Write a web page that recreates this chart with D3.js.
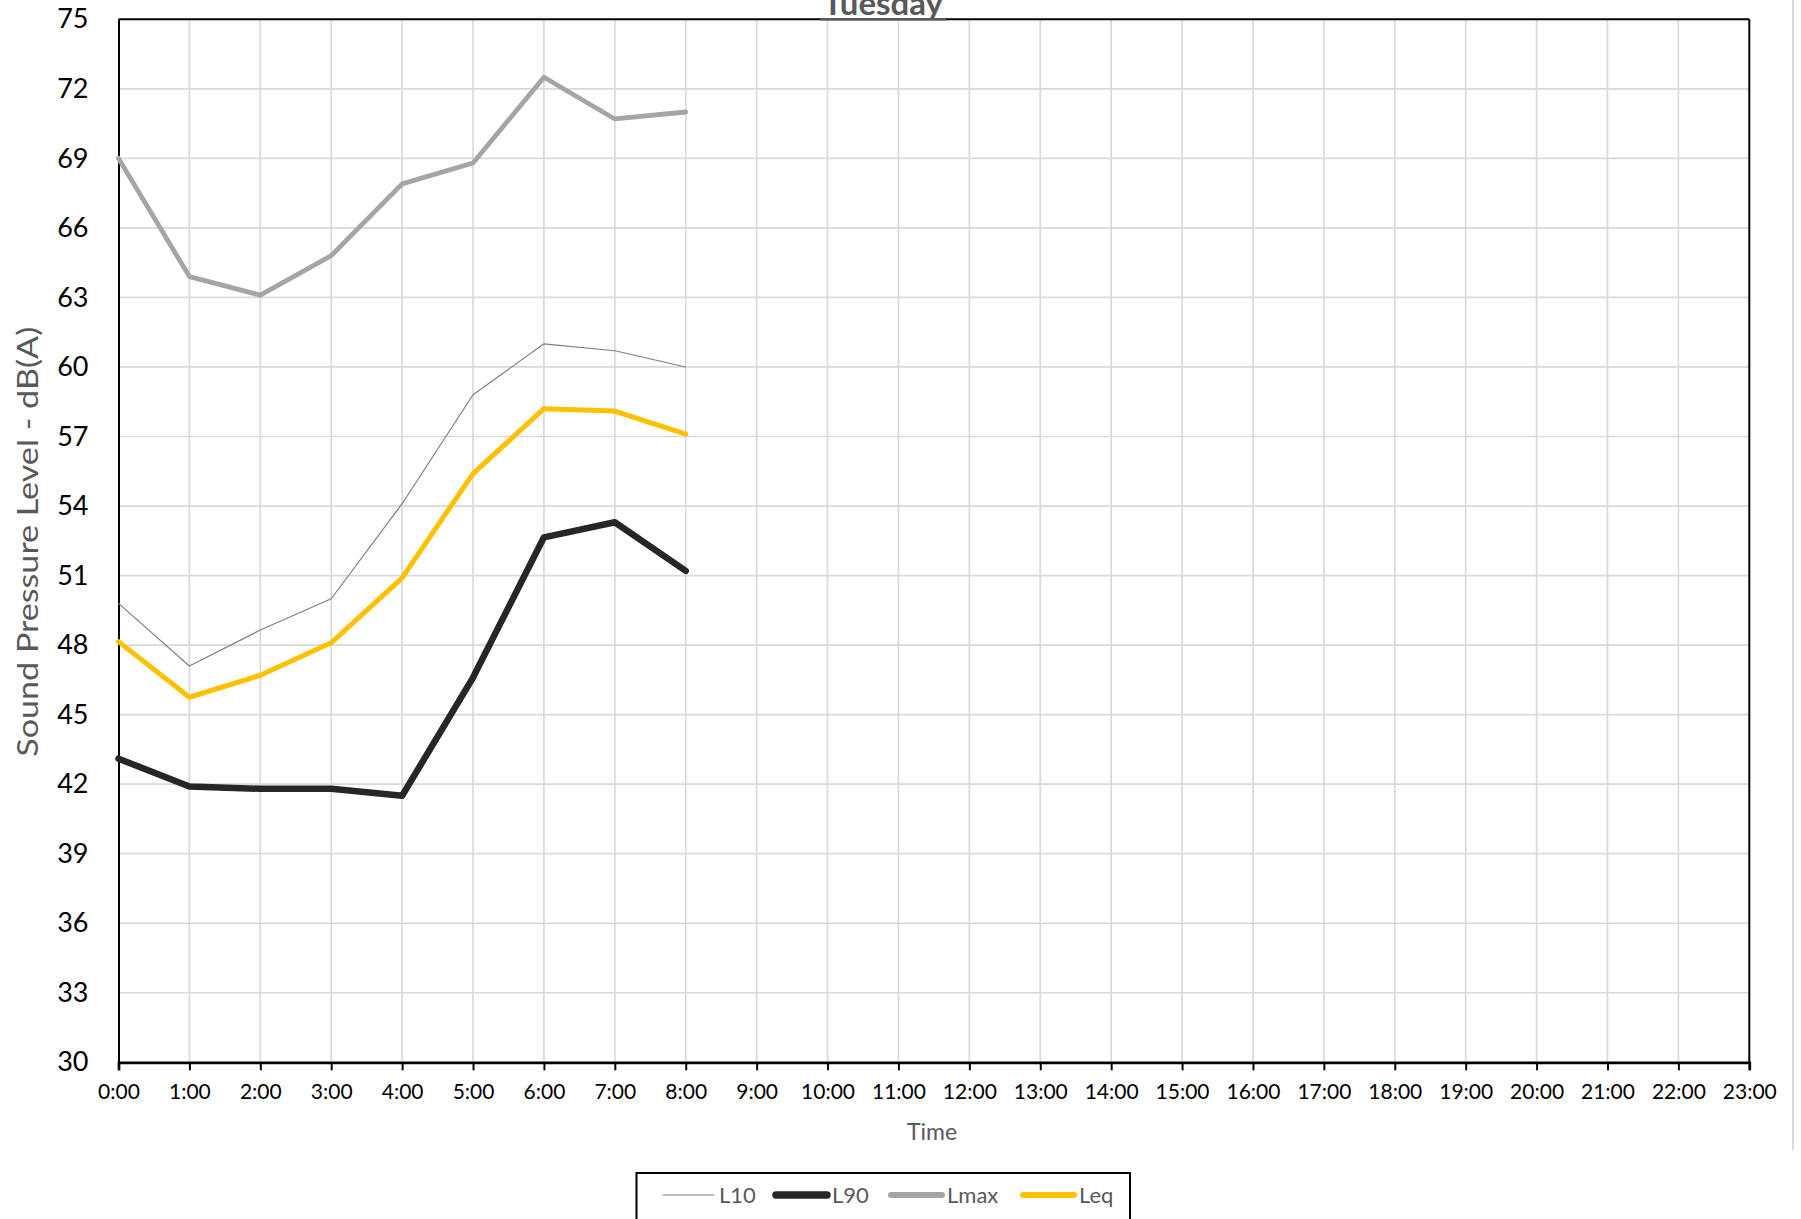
<!DOCTYPE html>
<html>
<head>
<meta charset="utf-8">
<script src="https://cdn.jsdelivr.net/npm/d3@7"></script>
<style>
  html, body { margin: 0; padding: 0; background: #fff; }
  svg { display: block; font-family: Lato, "Open Sans", sans-serif; }
</style>
</head>
<body>
<svg id="chart" width="1801" height="1219"></svg>
<script>
// ---- data ----
const hours = ["0:00","1:00","2:00","3:00","4:00","5:00","6:00","7:00","8:00","9:00","10:00","11:00",
               "12:00","13:00","14:00","15:00","16:00","17:00","18:00","19:00","20:00","21:00","22:00","23:00"];
const yTicks = [30,33,36,39,42,45,48,51,54,57,60,63,66,69,72,75];
const L10  = [49.8, 47.1, 48.65, 50.0, 54.1, 58.8, 61.0, 60.7, 60.0];
const L90  = [43.1, 41.9, 41.8, 41.8, 41.5, 46.6, 52.65, 53.3, 51.2];
const Lmax = [69.0, 63.9, 63.1, 64.8, 67.9, 68.8, 72.5, 70.7, 71.0];
const Leq  = [48.15, 45.75, 46.7, 48.1, 50.9, 55.4, 58.2, 58.1, 57.1];
const seriesNames = ["L10","L90","Lmax","Leq"];
const chartTitle = "Tuesday";
const yTitle = "Sound Pressure Level - dB(A)";
const xTitle = "Time";

(function () {
// ---- styles ----
const styles = {
  L10:  {color:"#7f7f7f", width:1.2, lw:1.2},
  L90:  {color:"#262626", width:6.5, lw:7.5},
  Lmax: {color:"#a5a5a5", width:4.8, lw:6},
  Leq:  {color:"#ffc000", width:5, lw:6}
};
const seriesData = {L10, L90, Lmax, Leq};

const svg = d3.select("#chart");
const pLeft = 118.5, pRight = 1749.3, pTop = 19.3, pBottom = 1062.3;

const x = d3.scalePoint().domain(hours).range([pLeft, pRight]).padding(0);
const y = d3.scaleLinear().domain([30, 75]).range([pBottom, pTop]);

// grid
svg.append("g").selectAll("line").data(yTicks.slice(1, -1)).join("line")
  .attr("x1", pLeft).attr("x2", pRight)
  .attr("y1", d => y(d)).attr("y2", d => y(d))
  .attr("stroke", "#d9d9d9").attr("stroke-width", 1.7);
svg.append("g").selectAll("line").data(hours.slice(1, -1)).join("line")
  .attr("y1", pTop).attr("y2", pBottom)
  .attr("x1", d => x(d)).attr("x2", d => x(d))
  .attr("stroke", "#d9d9d9").attr("stroke-width", 1.7);

// plot border (top/right)
svg.append("line").attr("x1", pLeft).attr("x2", pRight).attr("y1", pTop).attr("y2", pTop)
  .attr("stroke", "#000").attr("stroke-width", 2);
svg.append("line").attr("x1", pRight).attr("x2", pRight).attr("y1", pTop).attr("y2", pBottom)
  .attr("stroke", "#000").attr("stroke-width", 2);

// outer light line at right edge
svg.append("line").attr("x1", 1793).attr("x2", 1793).attr("y1", 0).attr("y2", 1150)
  .attr("stroke", "#d9d9d9").attr("stroke-width", 2);

// y axis
const yAxis = d3.axisLeft(y).tickValues(yTicks).tickSize(0).tickPadding(30);
const gy = svg.append("g").attr("transform", `translate(${pLeft},0)`).call(yAxis);
gy.select(".domain").attr("stroke", "#000").attr("stroke-width", 2);
gy.selectAll("text").attr("font-size", 27).attr("fill", "#000")
  .attr("font-family", "Lato, sans-serif");

// x axis
const xAxis = d3.axisBottom(x).tickSize(8).tickPadding(14);
const gx = svg.append("g").attr("transform", `translate(0,${pBottom})`).call(xAxis);
gx.select(".domain").attr("stroke", "#000").attr("stroke-width", 2.7);
gx.selectAll(".tick line").attr("stroke", "#000").attr("stroke-width", 2);
gx.selectAll("text").attr("font-size", 21).attr("fill", "#000")
  .attr("font-family", "Lato, sans-serif");

// series
const line = d3.line().x((d, i) => x(hours[i])).y(d => y(d));
seriesNames.forEach(name => {
  svg.append("path").datum(seriesData[name])
    .attr("d", line)
    .attr("fill", "none")
    .attr("stroke", styles[name].color)
    .attr("stroke-width", styles[name].width)
    .attr("stroke-linejoin", "round")
    .attr("stroke-linecap", "round");
});

// title
svg.append("line").attr("x1", 820).attr("x2", 946).attr("y1", pTop).attr("y2", pTop)
  .attr("stroke", "#595959").attr("stroke-width", 2.5);
svg.append("text").attr("x", 883).attr("y", 15).attr("text-anchor", "middle")
  .attr("font-size", 33).attr("font-weight", "bold").attr("fill", "#595959")
  .text(chartTitle);

// y title
svg.append("text")
  .attr("transform", `translate(38,${541.7}) rotate(-90)`)
  .attr("text-anchor", "middle")
  .attr("font-size", 28).attr("fill", "#595959")
  .attr("textLength", 430).attr("lengthAdjust", "spacingAndGlyphs")
  .text(yTitle);

// x title
svg.append("text").attr("x", 932).attr("y", 1140).attr("text-anchor", "middle")
  .attr("font-size", 23).attr("fill", "#595959").text(xTitle);

// legend
const lg = svg.append("g");
lg.append("rect").attr("x", 636.5).attr("y", 1173).attr("width", 493.5).attr("height", 60)
  .attr("fill", "#fff").attr("stroke", "#000").attr("stroke-width", 2);
const legendX = [661, 774, 889, 1021];
seriesNames.forEach((name, i) => {
  const lx = legendX[i];
  lg.append("line").attr("x1", lx + 2).attr("x2", lx + 53).attr("y1", 1195).attr("y2", 1195)
    .attr("stroke", styles[name].color).attr("stroke-width", styles[name].lw)
    .attr("stroke-linecap", "round");
  lg.append("text").attr("x", lx + 58).attr("y", 1203)
    .attr("font-size", 22).attr("fill", "#595959").text(name);
});
})();
</script>
</body>
</html>
